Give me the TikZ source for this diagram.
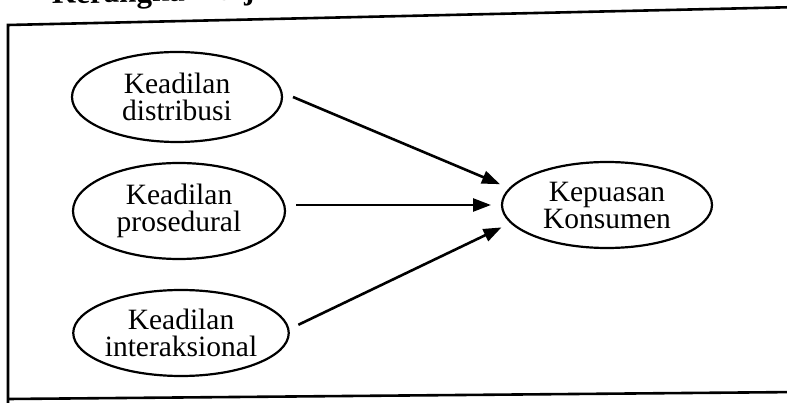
\documentclass[tikz,border=0pt]{standalone}
\usepackage{fontspec}
\setmainfont{Liberation Serif}
\usetikzlibrary{shapes.geometric,arrows.meta}

\begin{document}
\begin{tikzpicture}[x=1pt, y=-1pt,
    var/.style={ellipse, draw, line width=2.2pt, inner sep=0pt, outer sep=11pt,
        align=center, font=\fontsize{29.5}{27}\selectfont},
    link/.style={line width=2.6pt, -{Triangle[length=18pt,width=13pt]}},
    frame/.style={line width=2.6pt}]
    % Page window
    \useasboundingbox (0,0) rectangle (787,403);
    \clip (0,0) rectangle (787,403);

    % Title (cut at the top)
    \node[font=\fontsize{31}{31}\selectfont\bfseries, anchor=base west, inner sep=0pt, rotate=1.3]
        (judul) at (52,4) {Kerangka Kerja};

    % Frame
    \draw[frame] (8,410) -- (8,25) -- (800,7);
    \draw[frame] (8,399) -- (800,392);

    % Variables
    \node[var, minimum width=210pt, minimum height=90pt] (distribusi) at (177,97) {Keadilan\\distribusi};
    \node[var, minimum width=212pt, minimum height=96pt] (prosedural) at (179,211) {Keadilan\\prosedural};
    \node[var, minimum width=214pt, minimum height=86pt] (interaksional) at (181,333) {Keadilan\\interaksional};
    \node[var, minimum width=210pt, minimum height=86pt] (kepuasan) at (607,205) {Kepuasan\\Konsumen};

    % Arrows
    \draw[link] (distribusi.east) -- (kepuasan.169);
    \draw[link] (prosedural.east |- kepuasan.west) -- (kepuasan.west);
    \draw[link] (interaksional.4) -- (kepuasan.192);
\end{tikzpicture}
\end{document}
